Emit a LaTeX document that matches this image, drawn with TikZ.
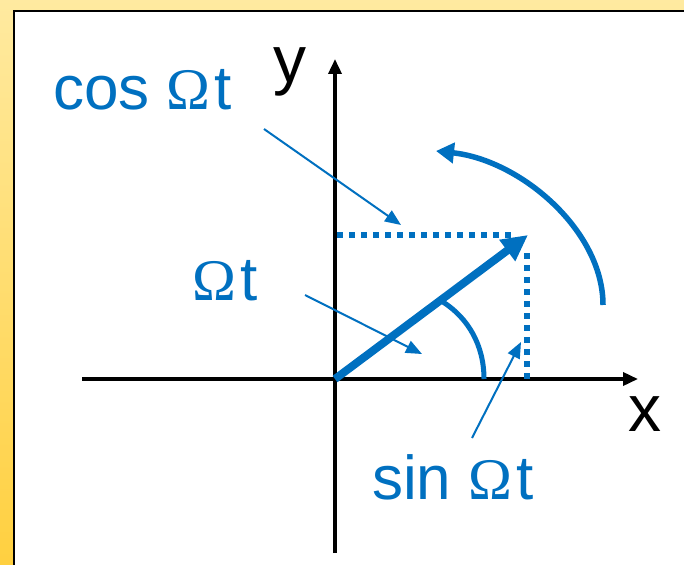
\documentclass[tikz,border=0pt]{standalone}
\usepackage{fontspec}
\usepackage{graphicx}
\setmainfont{Liberation Sans}
\newfontfamily\omegafont{Liberation Serif}
\usetikzlibrary{arrows.meta}
\definecolor{vblue}{RGB}{0,112,192}
\definecolor{paleyel}{RGB}{255,234,160}
\definecolor{deepyel}{RGB}{255,208,64}
\newcommand{\Om}{{\fontsize{59}{59}\selectfont\omegafont Ω}}
\tikzset{
  lbl/.style={text=vblue, inner sep=0pt, font=\fontsize{62}{62}\selectfont},
  axlbl/.style={text=black, inner sep=0pt, font=\fontsize{66}{66}\selectfont},
  axis/.style={line width=3.5pt, black, -{Triangle[length=15pt,width=13pt]}},
  pointer/.style={line width=2pt, vblue, -{Triangle[length=16pt,width=13pt]}},
  dotline/.style={line width=5.5pt, vblue, dash pattern=on 5.5pt off 6.5pt},
  vec/.style={line width=8pt, vblue, -{Triangle[length=26pt,width=25pt]}},
  rot/.style={line width=5.5pt, vblue, -{Triangle[length=18pt,width=20pt]}},
}
\begin{document}
\begin{tikzpicture}[x=1pt,y=-1pt]
\useasboundingbox (0,0) rectangle (684,564);
% frame
\shade[top color=paleyel, bottom color=deepyel] (0,0) rectangle (684,564);
\fill[white] (14,11) rectangle (700,580);
\draw[line width=2.5pt, black] (14,580) -- (14,11) -- (700,11);
% coordinates
\coordinate (O) at (335,379);
\coordinate (xl) at (82,379);
\coordinate (xr) at (638,379);
\coordinate (yb) at (335,553);
\coordinate (yt) at (335,59);
\coordinate (P) at (528,235);
\coordinate (hx) at (337,235);
\coordinate (hy) at (512,235);
\coordinate (vt) at (527,253);
\coordinate (vb) at (527,379);
\coordinate (a1) at (484,379);
\coordinate (a2) at (443,302);
\coordinate (r1) at (603,305);
\coordinate (r2) at (436,151);
\coordinate (c1) at (264,129);
\coordinate (c2) at (401,225);
\coordinate (w1) at (305,295);
\coordinate (w2) at (422,354);
\coordinate (s1) at (472,438);
\coordinate (s2) at (521,342);
% axes
\draw[axis] (xl) -- (xr);
\draw[axis] (yb) -- (yt);
\node[axlbl] (ylab) at (290,72) {y};
\node[axlbl] (xlab) at (645,414) {x};
% dotted projections
\draw[dotline] (hx) -- (hy);
\draw[dotline] (vt) -- (vb);
% vector
\draw[vec] (O) -- (P);
% angle arc
\draw[line width=5pt, vblue] (a1) .. controls (484,345) and (468,318) .. (a2);
% rotation arrow
\draw[rot] (r1) .. controls (603,230) and (520,160) .. (r2);
% labels
\node[lbl, anchor=base west] (cosl) at (53,110) {cos \Om\kern4pt t};
\node[lbl, anchor=base west] (oml) at (192,300) {\Om\kern4pt t};
\node[lbl, anchor=base west] (sinl) at (372,499) {sin \Om\kern4pt t};
% pointers
\draw[pointer] (c1) -- (c2);
\draw[pointer] (w1) -- (w2);
\draw[pointer] (s1) -- (s2);
\end{tikzpicture}
\end{document}
